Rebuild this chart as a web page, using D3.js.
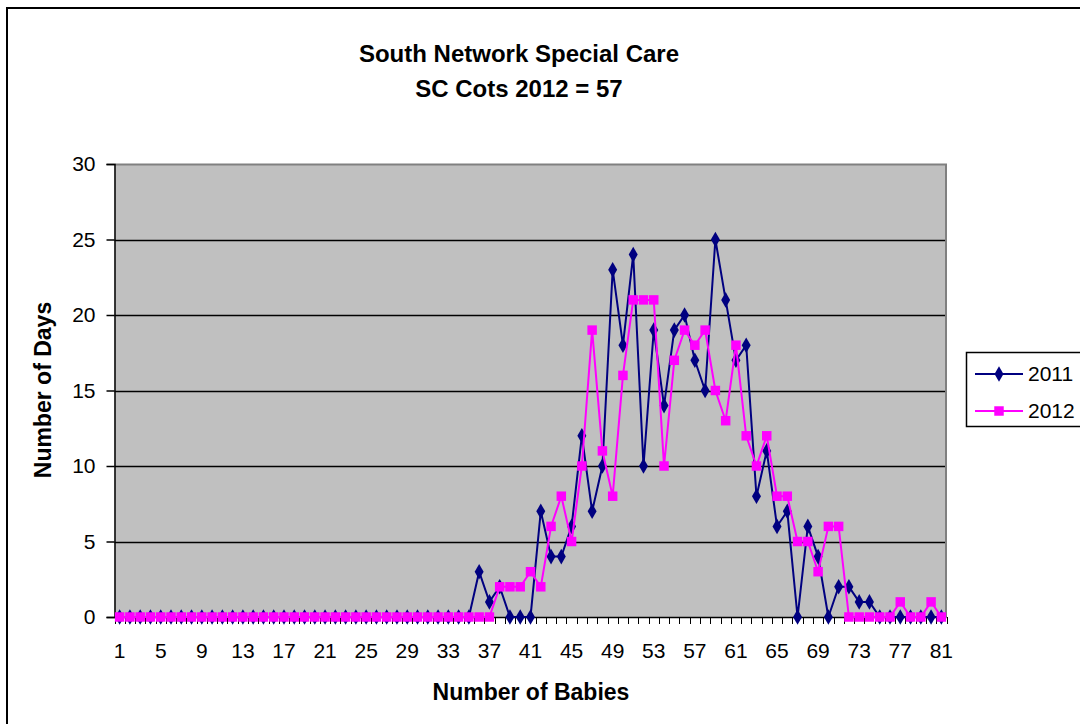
<!DOCTYPE html>
<html>
<head>
<meta charset="utf-8">
<script src="https://cdn.jsdelivr.net/npm/d3@7"></script>
<style>
  html, body { margin: 0; padding: 0; background: #fff; }
  svg { display: block; }
  text { font-family: Arial, "Liberation Sans", sans-serif; fill: #000; }
</style>
</head>
<body>
<svg id="chart" width="1080" height="724"></svg>
<script>
// ---- Data ----
const categories = d3.range(1, 82);
const series2011 = [
  0,0,0,0,0,0,0,0,0,0, 0,0,0,0,0,0,0,0,0,0,
  0,0,0,0,0,0,0,0,0,0, 0,0,0,0,0,3,1,2,0,0,
  0,7,4,4,6,12,7,10,23,18, 24,10,19,14,19,20,17,15,25,21,
  17,18,8,11,6,7,0,6,4,0, 2,2,1,1,0,0,0,0,0,0,
  0
];
const series2012 = [
  0,0,0,0,0,0,0,0,0,0, 0,0,0,0,0,0,0,0,0,0,
  0,0,0,0,0,0,0,0,0,0, 0,0,0,0,0,0,0,2,2,2,
  3,2,6,8,5,10,19,11,8,16, 21,21,21,10,17,19,18,19,15,13,
  18,12,10,12,8,8,5,5,3,6, 6,0,0,0,0,0,1,0,0,1,
  0
];
const seriesNames = ["2011", "2012"];
const yTicks = [0, 5, 10, 15, 20, 25, 30];
const xTickLabels = categories.filter((d, i) => i % 4 === 0);
const titleLines = ["South Network Special Care", "SC Cots 2012 = 57"];
const xTitle = "Number of Babies";
const yTitle = "Number of Days";

// ---- Layout ----
const svg = d3.select("#chart");
const plot = { left: 114.5, right: 946.5, top: 164, bottom: 617 };
const colors = { "2011": "#000080", "2012": "#FF00FF" };
const FONT = "Arial, 'Liberation Sans', sans-serif";

// outer chart border
svg.append("rect")
  .attr("x", 7).attr("y", 8).attr("width", 1090).attr("height", 730)
  .attr("fill", "#fff").attr("stroke", "#000").attr("stroke-width", 2);

const x = d3.scaleBand().domain(categories).range([plot.left, plot.right]).padding(0);
const y = d3.scaleLinear().domain([0, 30]).range([plot.bottom, plot.top]);

// plot background
svg.append("rect")
  .attr("x", plot.left).attr("y", plot.top)
  .attr("width", plot.right - plot.left).attr("height", plot.bottom - plot.top)
  .attr("fill", "#C0C0C0");

// gridlines
svg.append("g").selectAll("line")
  .data(yTicks.filter(t => t > 0 && t < 30))
  .join("line")
  .attr("x1", plot.left).attr("x2", plot.right)
  .attr("y1", d => Math.round(y(d)) + 0.5).attr("y2", d => Math.round(y(d)) + 0.5)
  .attr("stroke", "#000").attr("stroke-width", 1.5);

// plot top/right border (gray)
svg.append("path")
  .attr("d", `M${plot.left},${plot.top + 0.5}H${plot.right - 0.5}V${plot.bottom}`)
  .attr("fill", "none").attr("stroke", "#808080").attr("stroke-width", 2);

// Y axis
const yAxis = d3.axisLeft(y).tickValues(yTicks).tickSize(8).tickPadding(11);
const gy = svg.append("g").attr("transform", `translate(${plot.left},0)`).call(yAxis);
gy.select(".domain").attr("stroke", "#000").attr("stroke-width", 1.5);
gy.selectAll(".tick line").attr("stroke", "#000").attr("stroke-width", 1.5);
gy.selectAll(".tick text").attr("font-size", 21).attr("font-family", FONT).attr("fill", "#000");

// X axis: ticks between categories
const gx = svg.append("g").attr("transform", `translate(0,${plot.bottom})`);
gx.append("line").attr("x1", plot.left).attr("x2", plot.right)
  .attr("y1", 0.5).attr("y2", 0.5).attr("stroke", "#000").attr("stroke-width", 1.5);
const boundaries = categories.map(c => x(c)).concat([x(categories[categories.length - 1]) + x.bandwidth()]);
gx.selectAll("line.tk").data(boundaries).join("line").attr("class", "tk")
  .attr("x1", d => Math.round(d) + 0.5).attr("x2", d => Math.round(d) + 0.5)
  .attr("y1", 0).attr("y2", 7).attr("stroke", "#000").attr("stroke-width", 1);
gx.selectAll("text").data(xTickLabels).join("text")
  .attr("x", d => x(d) + x.bandwidth() / 2)
  .attr("y", 41)
  .attr("text-anchor", "middle")
  .attr("font-size", 21)
  .text(d => d);

// Lines and markers
const line = d3.line()
  .x((d, i) => x(categories[i]) + x.bandwidth() / 2)
  .y(d => y(d));

function drawSeries(values, name, shape) {
  const g = svg.append("g");
  g.append("path").datum(values)
    .attr("d", line)
    .attr("fill", "none")
    .attr("stroke", colors[name])
    .attr("stroke-width", 2);
  g.selectAll("path.m").data(values).join("path").attr("class", "m")
    .attr("transform", (d, i) => `translate(${x(categories[i]) + x.bandwidth() / 2},${y(d)})`)
    .attr("d", d3.symbol().type(shape).size(shape === d3.symbolSquare ? 90 : 70))
    .attr("fill", colors[name]);
}
drawSeries(series2011, "2011", d3.symbolDiamond);
drawSeries(series2012, "2012", d3.symbolSquare);

// Titles
svg.selectAll("text.title").data(titleLines).join("text").attr("class", "title")
  .attr("x", 519).attr("y", (d, i) => 62 + i * 35)
  .attr("text-anchor", "middle")
  .attr("font-size", 24).attr("font-weight", "bold")
  .text(d => d);

svg.append("text")
  .attr("x", 531).attr("y", 700)
  .attr("text-anchor", "middle")
  .attr("font-size", 23).attr("font-weight", "bold")
  .text(xTitle);

svg.append("text")
  .attr("transform", "translate(51,390) rotate(-90)")
  .attr("text-anchor", "middle")
  .attr("font-size", 23).attr("font-weight", "bold")
  .text(yTitle);

// Legend
const lg = svg.append("g");
lg.append("rect").attr("x", 966.5).attr("y", 352.5).attr("width", 130).attr("height", 74)
  .attr("fill", "#fff").attr("stroke", "#000").attr("stroke-width", 1.5);
const shapes = { "2011": d3.symbolDiamond, "2012": d3.symbolSquare };
seriesNames.forEach((name, i) => {
  const yy = 374 + i * 37;
  lg.append("line").attr("x1", 975).attr("x2", 1023).attr("y1", yy).attr("y2", yy)
    .attr("stroke", colors[name]).attr("stroke-width", 2);
  lg.append("path").attr("transform", `translate(999,${yy})`)
    .attr("d", d3.symbol().type(shapes[name]).size(name === "2012" ? 90 : 70))
    .attr("fill", colors[name]);
  lg.append("text").attr("x", 1028).attr("y", yy + 7).attr("font-size", 21).text(name);
});
</script>
</body>
</html>
